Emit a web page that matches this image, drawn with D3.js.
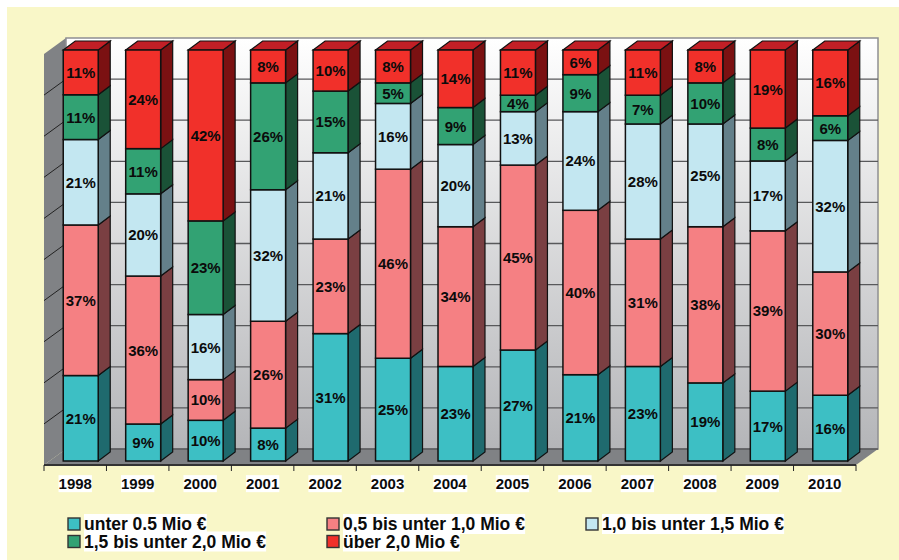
<!DOCTYPE html>
<html>
<head>
<meta charset="utf-8">
<script src="https://cdnjs.cloudflare.com/ajax/libs/d3/7.8.5/d3.min.js"></script>
<style>
html, body { margin: 0; padding: 0; background: #fff; }
svg { display: block; }
text { font-family: "Liberation Sans", Arial, sans-serif; font-weight: bold; fill: #0b0b0b; }
</style>
</head>
<body>
<svg id="chart" width="899" height="560"></svg>
<script>
var years = ["1998","1999","2000","2001","2002","2003","2004","2005","2006","2007","2008","2009","2010"];
var classNames = ["unter 0.5 Mio €","0,5 bis unter 1,0 Mio €","1,0 bis unter 1,5 Mio €","1,5 bis unter 2,0 Mio €","über 2,0 Mio €"];
var under05  = [21, 9,10, 8,31,25,23,27,21,23,19,17,16];
var under10  = [37,36,10,26,23,46,34,45,40,31,38,39,30];
var under15  = [21,20,16,32,21,16,20,13,24,28,25,17,32];
var under20  = [11,11,23,26,15, 5, 9, 4, 9, 7,10, 8, 6];
var over20   = [11,24,42, 8,10, 8,14,11, 6,11, 8,19,16];
var series = [under05, under10, under15, under20, over20];
var gridValues = [0,0.1,0.2,0.3,0.4,0.5,0.6,0.7,0.8,0.9,1];

var frontColors = ["#3dbfc4","#f58083","#c3e7f1","#32a273","#f1302a"];
var sideColors  = ["#1f6a6e","#7a3f42","#64808a","#1a5237","#7b1112"];
var topColor = "#c21f26";
var edge = "#111";

var svg = d3.select("#chart");
svg.append("rect").attr("x",7).attr("y",7).attr("width",892).attr("height",553).attr("fill","#f9f7c8");

var xScale = d3.scaleBand().domain(years).range([44,856]).paddingInner(0.44).paddingOuter(0.22);
var yScale = d3.scaleLinear().domain([0,1]).range([465,54]);

// oblique depth of the plot box and of the bars inside it
var boxDx = 22, boxDy = -16;
var barShiftX = 5.5, barShiftY = -4;
var barDx = 12, barDy = -9;

var rows = years.map(function(y,i) {
    var row = {year: y};
    series.forEach(function(s,k) { row[k] = s[i]; });
    return row;
});
var stack = d3.stack().keys([0,1,2,3,4]).offset(d3.stackOffsetExpand);
var layers = stack(rows);

var poly = function(pts) { return pts.map(function(p){ return p.join(","); }).join(" "); };

var defs = svg.append("defs");
var grad = defs.append("linearGradient").attr("id","wall").attr("x1",0).attr("y1",0).attr("x2",0).attr("y2",1);
grad.append("stop").attr("offset","0%").attr("stop-color","#ffffff");
grad.append("stop").attr("offset","100%").attr("stop-color","#b4b5b8");

var drawWalls = function() {
    var x0 = xScale.range()[0], x1 = xScale.range()[1];
    var yb = yScale(0), yt = yScale(1);
    svg.append("polygon")
        .attr("points", poly([[x0,yt],[x0+boxDx,yt+boxDy],[x0+boxDx,yb+boxDy],[x0,yb]]))
        .attr("fill","#808285");
    svg.append("rect")
        .attr("x",x0+boxDx).attr("y",yt+boxDy)
        .attr("width",x1-x0).attr("height",yb-yt)
        .attr("fill","url(#wall)").attr("stroke","#8e8f92").attr("stroke-width",1.5);
    svg.append("polygon")
        .attr("points", poly([[x0,yb],[x0+boxDx,yb+boxDy],[x1+boxDx,yb+boxDy],[x1,yb]]))
        .attr("fill","#808285");

    var grid = svg.append("g").attr("class","grid");
    grid.selectAll("line.back").data(gridValues.slice(0,-1)).enter().append("line")
        .attr("class","back")
        .attr("x1",x0+boxDx).attr("x2",x1+boxDx)
        .attr("y1",function(d){ return yScale(d)+boxDy; })
        .attr("y2",function(d){ return yScale(d)+boxDy; })
        .attr("stroke","#58595b").attr("stroke-width",1.3);
    grid.selectAll("line.side").data(gridValues.slice(1,-1)).enter().append("line")
        .attr("class","side")
        .attr("x1",x0).attr("x2",x0+boxDx)
        .attr("y1",function(d){ return yScale(d); })
        .attr("y2",function(d){ return yScale(d)+boxDy; })
        .attr("stroke","#222").attr("stroke-width",1);
};

var drawBars = function() {
    var w = xScale.bandwidth();
    var bars = svg.append("g").attr("class","bars");
    layers.forEach(function(layer,k) {
        var g = bars.append("g");
        layer.forEach(function(d,i) {
            var x = xScale(years[i]) + barShiftX;
            var y0 = yScale(d[0]) + barShiftY;
            var y1 = yScale(d[1]) + barShiftY;
            g.append("polygon")
                .attr("points", poly([[x+w,y1],[x+w+barDx,y1+barDy],[x+w+barDx,y0+barDy],[x+w,y0]]))
                .attr("fill",sideColors[k]).attr("stroke",edge).attr("stroke-width",1.2);
            if (k == layers.length-1) {
                g.append("polygon")
                    .attr("points", poly([[x,y1],[x+barDx,y1+barDy],[x+w+barDx,y1+barDy],[x+w,y1]]))
                    .attr("fill",topColor).attr("stroke",edge).attr("stroke-width",1.2);
            }
            g.append("rect")
                .attr("x",x).attr("y",y1).attr("width",w).attr("height",y0-y1)
                .attr("fill",frontColors[k]).attr("stroke",edge).attr("stroke-width",1.5);
            g.append("text")
                .text(series[k][i] + "%")
                .attr("x",x+w/2).attr("y",(y0+y1)/2+5.5)
                .attr("text-anchor","middle")
                .style("font-size","15px");
        });
    });
};

var drawAxis = function() {
    var axis = svg.append("g").attr("transform","translate(0,465)");
    axis.call(d3.axisBottom(xScale).tickSize(0).tickPadding(13.5));
    axis.select(".domain").remove();
    axis.selectAll("text")
        .style("font-family",'"Liberation Sans", Arial, sans-serif')
        .style("font-size","15px").style("font-weight","bold").attr("fill","#0b0b0b");
    axis.selectAll(".tick").each(function() {
        var t = d3.select(this).select("text");
        var b = t.node().getBBox();
        d3.select(this).insert("rect","text")
            .attr("x",b.x).attr("y",b.y).attr("width",b.width).attr("height",b.height)
            .attr("fill","#fff");
    });
    axis.append("line")
        .attr("x1",xScale.range()[0]).attr("x2",xScale.range()[1])
        .attr("stroke","#333").attr("stroke-width",1.8);
    axis.selectAll("line.edge").data(d3.range(years.length+1)).enter().append("line")
        .attr("class","edge")
        .attr("x1",function(i){ return xScale.range()[0]+i*xScale.step(); })
        .attr("x2",function(i){ return xScale.range()[0]+i*xScale.step(); })
        .attr("y1",0).attr("y2",6)
        .attr("stroke","#222").attr("stroke-width",1);
};

var drawLegend = function() {
    var spots = [[68,524],[327,524],[586,524],[68,541.5],[327,541.5]];
    classNames.forEach(function(name,k) {
        var g = svg.append("g").attr("transform","translate("+spots[k][0]+","+spots[k][1]+")");
        g.append("rect").attr("x",0).attr("y",-6).attr("width",12).attr("height",12)
            .attr("fill",frontColors[k]).attr("stroke","#333").attr("stroke-width",1.4);
        var t = g.append("text").text(name).attr("x",16).attr("y",6).style("font-size","17.5px");
        var b = t.node().getBBox();
        g.insert("rect","text").attr("x",b.x).attr("y",b.y).attr("width",b.width).attr("height",b.height).attr("fill","#fff");
    });
};

drawWalls();
drawBars();
drawAxis();
drawLegend();
</script>
</body>
</html>
